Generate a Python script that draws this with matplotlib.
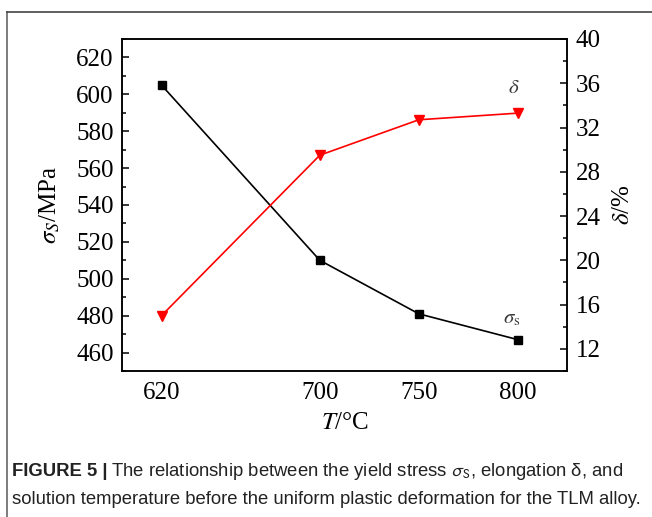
import matplotlib
matplotlib.use("Agg")
import matplotlib.pyplot as plt
from matplotlib.lines import Line2D
from matplotlib.ticker import MultipleLocator

# solution temperature and the two measured properties
temps = [620, 700, 750, 800]
yield_stress = [605, 510, 481, 467]     # MPa
elongation = [15.0, 29.5, 32.7, 33.3]   # %

x_ticks = [620, 700, 750, 800]

serif = ["Liberation Serif", "DejaVu Serif"]
sans = ["Liberation Sans", "DejaVu Sans"]

fig = plt.figure(figsize=(6.52, 5.17), dpi=100)
ax = fig.add_axes([0.187, 0.2824, 0.683, 0.6422])
ax2 = ax.twinx()

ax.plot(temps, yield_stress, color="black", lw=1.2, marker="s", ms=5.5, zorder=3)
ax2.plot(temps, elongation, color="#ff0000", lw=1.2, marker="v", ms=6.5, zorder=3)

ax.set_xlim(600, 825)
ax.set_ylim(450, 630)
ax2.set_ylim(10, 40)

ax.set_xticks(x_ticks)
ax.yaxis.set_major_locator(MultipleLocator(20))
ax.yaxis.set_minor_locator(MultipleLocator(10))
ax2.yaxis.set_minor_locator(MultipleLocator(2))
ax2.set_yticks(range(12, 41, 4))

for a in (ax, ax2):
    for s in a.spines.values():
        s.set_linewidth(1.1)
    for lab in a.get_xticklabels() + a.get_yticklabels():
        lab.set_fontfamily(serif)
        lab.set_fontsize(18)

ax.tick_params(axis="x", length=0, pad=8)
ax.tick_params(axis="y", which="major", direction="in", length=5, width=1.1, pad=6)
ax.tick_params(axis="y", which="minor", direction="in", length=3, width=1.1)
ax2.tick_params(axis="y", which="major", direction="in", length=5, width=1.1, pad=6)
ax2.tick_params(axis="y", which="minor", direction="in", length=3, width=1.1)

ax.set_xlabel(r"$T$/°C", fontsize=18, family=serif, math_fontfamily="stix", labelpad=6)
ax.set_ylabel(r"$\sigma_S$/MPa", fontsize=18, family=serif, math_fontfamily="stix", labelpad=10)
ax2.set_ylabel(r"$\delta$/%", fontsize=18, family=serif, math_fontfamily="stix", labelpad=8)

ax2.text(798, 35.7, r"$\delta$", fontsize=15, color="#3a3a3a", ha="center", va="center",
         math_fontfamily="stix")
ax.text(797, 479, r"$\sigma_{\rm s}$", fontsize=15, color="#3a3a3a", ha="center", va="center",
        math_fontfamily="stix")

# frame lines around the figure panel
fig.add_artist(Line2D([7 / 652, 7 / 652], [0, 1 - 12 / 517], color="#666666", lw=1.2))
fig.add_artist(Line2D([7 / 652, 1], [1 - 12 / 517, 1 - 12 / 517], color="#444444", lw=1.2))

# caption
cap_x = 12 / 652
line1_y = 1 - 471 / 517
line2_y = 1 - 499 / 517
cap_size = 13.3
bold = fig.text(cap_x, line1_y, "FIGURE 5 |", fontsize=cap_size, family=sans, weight="bold",
                va="center", color="#222222")
fig.canvas.draw()
bb = bold.get_window_extent().transformed(fig.transFigure.inverted())
fig.text(bb.x1 + 4 / 652, line1_y,
         r"The relationship between the yield stress $\sigma_{\rm S}$, elongation δ, and",
         fontsize=cap_size, family=sans, va="center", color="#222222", math_fontfamily="stixsans")
fig.text(cap_x, line2_y,
         "solution temperature before the uniform plastic deformation for the TLM alloy.",
         fontsize=cap_size, family=sans, va="center", color="#222222")

fig.savefig("out.png", dpi=100)
